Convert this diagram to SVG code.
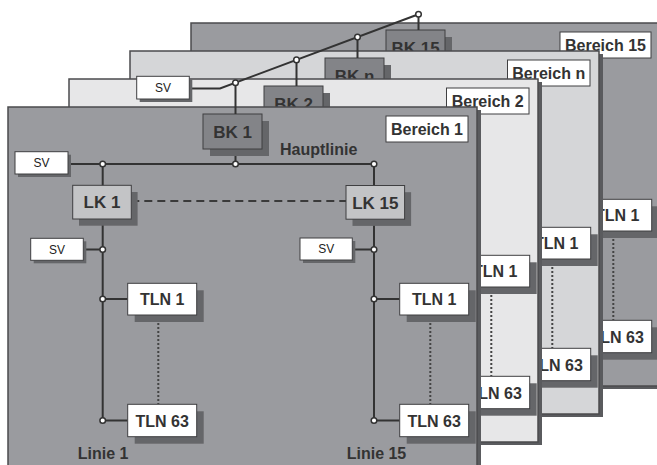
<svg xmlns="http://www.w3.org/2000/svg" width="657" height="465" viewBox="0 0 657 465">
<style>
.panel{stroke:#4b4b4d;stroke-width:1.5}
.pshadow{fill:#5a5b5e}
.dark{fill:#9a9b9f}
.light{fill:#d5d6d8}
.lighter{fill:#e7e7e8}
.box{stroke:#3f3f41;stroke-width:1}
.shadow{fill:#656669}
.white{fill:#fff}
.bk{fill:#838488}
.lk{fill:#c3c4c6}
.line{stroke:#333;stroke-width:2;fill:none}
.dash{stroke:#3a3a3a;stroke-width:2;stroke-dasharray:8 5;fill:none}
.dot{stroke:#444;stroke-width:2;stroke-dasharray:2 2;fill:none}
.node{fill:#fff;stroke:#333;stroke-width:1.5}
text{font-family:"Liberation Sans",Arial,sans-serif;fill:#333}
.b{font-weight:bold;font-size:16px}
.big{font-weight:bold;font-size:17px}
.sv{font-size:12px;fill:#222}
.m{text-anchor:middle}
</style>

<!-- Bereich 15 (back) -->
<g id="bereich15" transform="translate(191,23)">
  <rect class="pshadow" x="4" y="3" width="469" height="363"/>
  <rect class="panel dark" x="0" y="0" width="469" height="363"/>
  <g id="bereich15-label"><rect class="box white" x="369" y="9" width="91" height="26"/><text class="b m" x="414.5" y="28">Bereich 15</text></g>
  <g id="bk15"><rect class="shadow" x="202" y="14" width="59" height="35"/><rect class="box bk" x="195" y="7" width="59" height="35"/><text class="big m" x="224.5" y="30.5">BK 15</text></g>
  <path class="dot" d="M422.3 208V297"/>
  <g id="b15-tln1"><rect class="shadow" x="398.7" y="183.3" width="69" height="31.7"/><rect class="box white" x="391.7" y="176.3" width="69" height="31.7"/><text class="b m" x="426.2" y="198.2">TLN 1</text></g>
  <g id="b15-tln63"><rect class="shadow" x="398.7" y="304.3" width="69" height="32.4"/><rect class="box white" x="391.7" y="297.3" width="69" height="32.4"/><text class="b m" x="426.2" y="319.5">TLN 63</text></g>
</g>

<!-- Bereich n -->
<g id="bereichn" transform="translate(130,51)">
  <rect class="pshadow" x="4" y="3" width="469" height="363"/>
  <rect class="panel light" x="0" y="0" width="469" height="363"/>
  <g id="bereichn-label"><rect class="box white" x="377.5" y="9" width="82.5" height="26"/><text class="b m" x="418.7" y="28">Bereich n</text></g>
  <g id="bkn"><rect class="shadow" x="202" y="14" width="59" height="35"/><rect class="box bk" x="195" y="7" width="59" height="35"/><text class="big m" x="224.5" y="30.5">BK n</text></g>
  <path class="dot" d="M422.3 208V297"/>
  <g id="bn-tln1"><rect class="shadow" x="398.7" y="183.3" width="69" height="31.7"/><rect class="box white" x="391.7" y="176.3" width="69" height="31.7"/><text class="b m" x="426.2" y="198.2">TLN 1</text></g>
  <g id="bn-tln63"><rect class="shadow" x="398.7" y="304.3" width="69" height="32.4"/><rect class="box white" x="391.7" y="297.3" width="69" height="32.4"/><text class="b m" x="426.2" y="319.5">TLN 63</text></g>
</g>

<!-- Bereich 2 -->
<g id="bereich2" transform="translate(69,79)">
  <rect class="pshadow" x="4" y="3" width="469" height="363"/>
  <rect class="panel lighter" x="0" y="0" width="469" height="363"/>
  <g id="bereich2-label"><rect class="box white" x="377.5" y="9" width="82.5" height="26"/><text class="b m" x="418.7" y="28">Bereich 2</text></g>
  <g id="bk2"><rect class="shadow" x="202" y="14" width="59" height="35"/><rect class="box bk" x="195" y="7" width="59" height="35"/><text class="big m" x="224.5" y="30.5">BK 2</text></g>
  <path class="dot" d="M422.3 208V297"/>
  <g id="b2-tln1"><rect class="shadow" x="398.7" y="183.3" width="69" height="31.7"/><rect class="box white" x="391.7" y="176.3" width="69" height="31.7"/><text class="b m" x="426.2" y="198.2">TLN 1</text></g>
  <g id="b2-tln63"><rect class="shadow" x="398.7" y="304.3" width="69" height="32.4"/><rect class="box white" x="391.7" y="297.3" width="69" height="32.4"/><text class="b m" x="426.2" y="319.5">TLN 63</text></g>
</g>

<!-- Bereich 1 (front) -->
<g id="bereich1" transform="translate(8,107)">
  <rect class="pshadow" x="4" y="3" width="469" height="363"/>
  <rect class="panel dark" x="0" y="0" width="469" height="363"/>
  <g id="bereich1-label"><rect class="box white" x="378" y="9" width="82" height="26"/><text class="b m" x="419" y="28">Bereich 1</text></g>

  <g id="connectors-b1">
    <path class="line" d="M227.5 42V57"/>
    <path class="line" d="M60 57H366"/>
    <path class="line" d="M94.7 57V313.5"/>
    <path class="line" d="M366 57V313.5"/>
    <path class="line" d="M75.3 142.5H94.7"/>
    <path class="line" d="M344.3 142.5H366"/>
    <path class="line" d="M94.7 192H119.7"/>
    <path class="line" d="M94.7 313.5H119.7"/>
    <path class="line" d="M366 192H391.7"/>
    <path class="line" d="M366 313.5H391.7"/>
    <path class="dash" d="M123.3 94H338"/>
    <path class="dot" d="M150.3 208V297"/>
    <path class="dot" d="M422.3 208V297"/>
    <circle class="node" cx="94.7" cy="57" r="2.8"/>
    <circle class="node" cx="227.5" cy="57" r="2.8"/>
    <circle class="node" cx="366" cy="57" r="2.8"/>
    <circle class="node" cx="94.7" cy="142.5" r="2.8"/>
    <circle class="node" cx="366" cy="142.5" r="2.8"/>
    <circle class="node" cx="94.7" cy="192" r="2.8"/>
    <circle class="node" cx="366" cy="192" r="2.8"/>
    <circle class="node" cx="94.7" cy="313.5" r="2.8"/>
    <circle class="node" cx="366" cy="313.5" r="2.8"/>
  </g>

  <g id="bk1"><rect class="shadow" x="202" y="14" width="59" height="35"/><rect class="box bk" x="195" y="7" width="59" height="35"/><text class="big m" x="224.5" y="30.5">BK 1</text></g>
  <text class="b" x="272" y="48">Hauptlinie</text>
  <g id="sv-haupt"><rect class="shadow" x="10" y="47.7" width="53" height="22.3"/><rect class="box white" x="7" y="44.7" width="53" height="22.3"/><text class="sv m" x="33.5" y="60">SV</text></g>
  <g id="lk1"><rect class="shadow" x="71" y="85" width="58.6" height="33.7"/><rect class="box lk" x="64.7" y="78.3" width="58.6" height="33.7"/><text class="big m" x="94" y="101.3">LK 1</text></g>
  <g id="lk15"><rect class="shadow" x="344.5" y="85.2" width="58.6" height="33.7"/><rect class="box lk" x="338" y="78.5" width="58.6" height="33.7"/><text class="big m" x="367.3" y="101.5">LK 15</text></g>
  <g id="sv-linie1"><rect class="shadow" x="25.7" y="134.3" width="52.6" height="22"/><rect class="box white" x="22.7" y="131.3" width="52.6" height="22"/><text class="sv m" x="49" y="146.6">SV</text></g>
  <g id="sv-linie15"><rect class="shadow" x="295" y="134" width="52.3" height="22"/><rect class="box white" x="292" y="131" width="52.3" height="22"/><text class="sv m" x="318.2" y="146.4">SV</text></g>
  <g id="l1-tln1"><rect class="shadow" x="126.7" y="183.3" width="69" height="31.7"/><rect class="box white" x="119.7" y="176.3" width="69" height="31.7"/><text class="b m" x="154.2" y="198.2">TLN 1</text></g>
  <g id="l1-tln63"><rect class="shadow" x="126.7" y="304.3" width="69" height="32.4"/><rect class="box white" x="119.7" y="297.3" width="69" height="32.4"/><text class="b m" x="154.2" y="319.5">TLN 63</text></g>
  <g id="l15-tln1"><rect class="shadow" x="398.7" y="183.3" width="69" height="31.7"/><rect class="box white" x="391.7" y="176.3" width="69" height="31.7"/><text class="b m" x="426.2" y="198.2">TLN 1</text></g>
  <g id="l15-tln63"><rect class="shadow" x="398.7" y="304.3" width="69" height="32.4"/><rect class="box white" x="391.7" y="297.3" width="69" height="32.4"/><text class="b m" x="426.2" y="319.5">TLN 63</text></g>
  <text class="b" x="69.7" y="352">Linie 1</text>
  <text class="b" x="338.7" y="352">Linie 15</text>
</g>

<!-- Backbone (Bereichslinie) -->
<g id="backbone">
  <polyline class="line" points="189.3,88.5 220,88.5 418.5,14.3"/>
  <path class="line" d="M235.5 82.7V114"/>
  <path class="line" d="M296.5 59.9V86"/>
  <path class="line" d="M357.5 37.1V58"/>
  <path class="line" d="M418.5 14.3V30"/>
  <circle class="node" cx="235.5" cy="82.7" r="2.8"/>
  <circle class="node" cx="296.5" cy="59.9" r="2.8"/>
  <circle class="node" cx="357.5" cy="37.1" r="2.8"/>
  <circle class="node" cx="418.5" cy="14.3" r="2.8"/>
</g>
<g id="sv-backbone"><rect class="shadow" x="139.7" y="79.3" width="52.6" height="22.7"/><rect class="box white" x="136.7" y="76.3" width="52.6" height="22.7"/><text class="sv m" x="163" y="92">SV</text></g>
</svg>
